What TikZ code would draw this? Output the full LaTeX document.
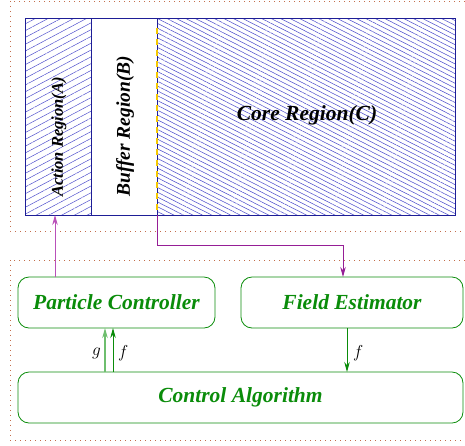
\documentclass[tikz,border=0pt]{standalone}
\usepackage{fontspec}
\setmainfont{Liberation Serif}
\usetikzlibrary{patterns.meta,arrows.meta,calc}
\definecolor{boxblue}{RGB}{30,30,150}
\definecolor{hatch}{RGB}{80,80,205}
\definecolor{grn}{RGB}{10,140,10}
\definecolor{lgrn}{RGB}{110,190,110}
\definecolor{purp}{RGB}{150,30,150}
\definecolor{lpurp}{RGB}{185,80,185}
\definecolor{dotc}{RGB}{195,110,75}
\definecolor{ylw}{RGB}{245,200,0}
\begin{document}
\begin{tikzpicture}[x=1pt,y=-1pt,
  region/.style={draw=boxblue, line width=0.8pt, inner sep=0pt, outer sep=0pt, anchor=north west},
  ctrl/.style={draw=grn, rounded corners=11pt, line width=0.8pt, inner sep=0pt, outer sep=0pt,
    anchor=north west, text=grn, font=\fontsize{21.5}{24}\selectfont\bfseries\itshape},
  frame/.style={draw=dotc, line width=1pt, dash pattern=on 1pt off 4pt},
  lbl/.style={inner sep=0pt},
  sig/.style={font=\fontsize{16}{18}\selectfont, inner sep=0pt},
  tip/.style={-{Stealth[length=10pt,width=5.5pt]}}
]
\clip (0,0) rectangle (465,445);
\useasboundingbox (0,0) rectangle (465,445);
% frames
\draw[frame] (10,1) rectangle (470,231);
\draw[frame] (10,260) rectangle (470,440);
% regions
\node[region, minimum width=66pt, minimum height=197pt,
  pattern={Lines[angle=28,distance=6pt,line width=0.5pt]}, pattern color=hatch] (A) at (25,18) {};
\node[region, minimum width=66pt, minimum height=197pt, fill=white] (B) at (91,18) {};
\node[region, minimum width=298pt, minimum height=197pt,
  pattern={Lines[angle=-27,distance=4.3pt,line width=0.55pt]}, pattern color=hatch] (Cr) at (157,18) {};
\draw[ylw, line width=1.6pt, dash pattern=on 6pt off 5pt] ($(B.north east)+(0,10)$) -- ($(B.south east)+(0,-3)$);
\node[lbl, rotate=90, anchor=west, font=\fontsize{16.5}{20}\selectfont\bfseries\itshape] (tA) at (59,197) {Action Region(A)};
\node[lbl, rotate=90, anchor=west, font=\fontsize{19.5}{23}\selectfont\bfseries\itshape] (tB) at (125,197) {Buffer Region(B)};
\node[lbl, font=\fontsize{21.5}{24}\selectfont\bfseries\itshape] (tC) at (307,115) {Core Region(C)};
% controllers
\node[ctrl, minimum width=197pt, minimum height=51pt] (P) at (18,277) {Particle Controller};
\node[ctrl, minimum width=222pt, minimum height=51pt] (F) at (241,277) {Field Estimator};
\node[ctrl, minimum width=445pt, minimum height=51pt] (Ca) at (18,372) {Control Algorithm};
% connectors
\coordinate (up1) at ($(P.north west)+(37,0)$);
\draw[lpurp, line width=0.9pt, tip] (up1) -- (up1 |- A.south);
\coordinate (turn) at (343,245);
\draw[purp, line width=0.8pt, tip] (B.south east) |- (turn) -- (turn |- F.north);
\coordinate (g1) at ($(Ca.north west)+(87,0)$);
\coordinate (f1) at ($(Ca.north west)+(95,0)$);
\draw[lgrn, line width=1.3pt, tip] (g1) -- (g1 |- P.south);
\draw[grn, line width=0.8pt, tip] (f1) -- (f1 |- P.south);
\coordinate (f2) at ($(F.south west)+(106,0)$);
\draw[grn, line width=0.8pt, tip] (f2) -- (f2 |- Ca.north);
\node[sig, anchor=east] (lg) at ($(g1)+(-4,-19)$) {$g$};
\node[sig, anchor=west] (lf) at ($(f1)+(5,-19)$) {$f$};
\node[sig, anchor=west] (lf2) at ($(f2)+(6,25)$) {$f$};
\end{tikzpicture}
\end{document}
